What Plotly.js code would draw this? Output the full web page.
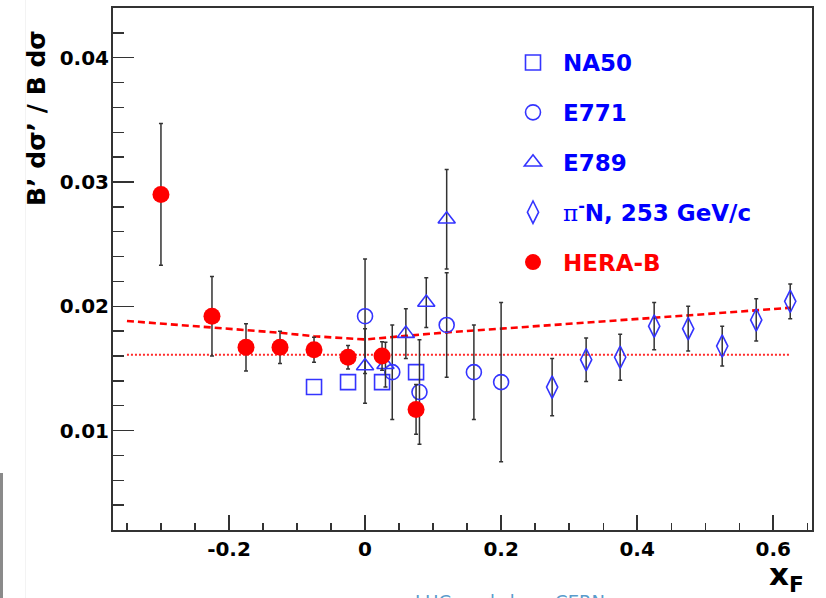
<!DOCTYPE html>
<html>
<head>
<meta charset="utf-8">
<script src="https://cdn.plot.ly/plotly-3.0.1.min.js"></script>
<style>
  html, body { margin: 0; padding: 0; background: #ffffff; }
  #chart { width: 826px; height: 598px; }
</style>
</head>
<body>
<div id="chart"></div>
<script>
// ---- measurements: B' dσ'/B dσ versus x_F ----
const na50X = [-0.075, -0.025, 0.025, 0.075];
const na50Y = [0.0135, 0.0139, 0.0139, 0.0147];

const e771X = [0, 0.04, 0.08, 0.12, 0.16, 0.2];
const e771Y = [0.0192, 0.0147, 0.0131, 0.0185, 0.0147, 0.0139];
const e771Err = [0.0046, 0.0038, 0.0042, 0.0042, 0.0038, 0.0064];

const e789X = [0, 0.03, 0.06, 0.09, 0.12];
const e789Y = [0.0152, 0.0153, 0.0178, 0.0203, 0.0270];
const e789Err = [0.0030, 0.0018, 0.0020, 0.0020, 0.0040];

const piNX = [0.275, 0.325, 0.375, 0.425, 0.475, 0.525, 0.575, 0.625];
const piNY = [0.0135, 0.0157, 0.0159, 0.0184, 0.0182, 0.0168, 0.0189, 0.0204];
const piNErr = [0.0023, 0.00175, 0.00185, 0.0019, 0.0018, 0.0016, 0.0017, 0.0014];

const herabX = [-0.3, -0.225, -0.175, -0.125, -0.075, -0.025, 0.025, 0.075];
const herabY = [0.0290, 0.0192, 0.0167, 0.0167, 0.0165, 0.0159, 0.0160, 0.0117];
const herabErr = [0.0057, 0.0032, 0.0019, 0.0013, 0.0010, 0.00095, 0.00115, 0.0020];

// model curves
const modelX = [-0.35, -0.3, -0.225, -0.175, -0.125, -0.075, -0.025, 0, 0.06, 0.12, 0.2, 0.3, 0.4, 0.5, 0.625];
const modelY = [0.01882, 0.01862, 0.01832, 0.01808, 0.01787, 0.01759, 0.01741, 0.01733, 0.01762, 0.01790, 0.01820, 0.01858, 0.01897, 0.01937, 0.01988];
const flatX = [-0.35, 0.625];
const flatY = [0.0161, 0.0161];

// axis tick labels
const xTickVals = [-0.2, 0, 0.2, 0.4, 0.6];
const xTickText = ['-0.2', '0', '0.2', '0.4', '0.6'];
const yTickVals = [0.01, 0.02, 0.03, 0.04];
const yTickText = ['0.01', '0.02', '0.03', '0.04'];

// legend labels
const names = {
  na50: 'NA50',
  e771: 'E771',
  e789: 'E789',
  piN: '<span style="font-family:\'DejaVu Serif\';font-weight:normal">π</span><sup>-</sup>N, 253 GeV/c',
  herab: '<span style="color:#ff0000">HERA-B</span>'
};

// ---- styling ----
const FONT = 'DejaVu Sans, Verdana, sans-serif';
const BLUE = '#3434ff';
const RED = '#ff0000';
const ERRCOL = '#333333';

// plot frame in page pixels
const W = 826, H = 598;
const M = { l: 113, r: 14, t: 8, b: 68 };
const PW = W - M.l - M.r, PH = H - M.t - M.b;
const px = (x) => (x - M.l) / PW;
const py = (y) => (H - M.b - y) / PH;

function errY(arr) {
  return { type: 'data', array: arr, visible: true, color: ERRCOL, thickness: 1.5, width: 2 };
}

const traces = [
  {
    x: modelX, y: modelY, mode: 'lines', showlegend: false, hoverinfo: 'skip',
    line: { color: RED, width: 2.6, dash: '7px,4px' }
  },
  {
    x: flatX, y: flatY, mode: 'lines', showlegend: false, hoverinfo: 'skip',
    line: { color: '#ff2a2a', width: 2, dash: '2px,2px' }
  },
  {
    x: na50X, y: na50Y, mode: 'markers', name: names.na50, legendgroup: 'a',
    marker: { symbol: 'square-open', size: 15, color: BLUE, line: { width: 1.6, color: BLUE } }
  },
  {
    x: e771X, y: e771Y, mode: 'markers', name: names.e771, legendgroup: 'b',
    error_y: errY(e771Err),
    marker: { symbol: 'circle-open', size: 15, color: BLUE, line: { width: 1.6, color: BLUE } }
  },
  {
    x: e789X, y: e789Y, mode: 'markers', name: names.e789, legendgroup: 'c',
    error_y: errY(e789Err),
    marker: { symbol: 'triangle-up-open', size: 15, color: BLUE, line: { width: 1.6, color: BLUE } }
  },
  {
    x: piNX, y: piNY, mode: 'markers', name: names.piN, legendgroup: 'd',
    error_y: errY(piNErr),
    marker: { symbol: 'diamond-tall-open', size: 16, color: BLUE, line: { width: 1.6, color: BLUE } }
  },
  {
    x: herabX, y: herabY, mode: 'markers', name: names.herab, legendgroup: 'e',
    error_y: errY(herabErr),
    marker: { symbol: 'circle', size: 17, color: RED, line: { width: 0 } }
  }
];

const axisCommon = {
  showgrid: false, zeroline: false,
  showline: true, linecolor: '#333333', linewidth: 2, mirror: true,
  ticks: 'inside', tickcolor: '#333333', tickwidth: 1.5,
  tickmode: 'array',
  tickfont: { family: FONT, size: 20, color: '#000000', weight: 'bold' }
};

const layout = {
  width: W, height: H,
  margin: M,
  paper_bgcolor: '#ffffff', plot_bgcolor: '#ffffff',
  showlegend: true,
  legend: {
    x: px(503), y: py(41), xanchor: 'left', yanchor: 'top',
    bgcolor: 'rgba(0,0,0,0)', borderwidth: 0,
    itemwidth: 50, traceorder: 'grouped', tracegroupgap: 17,
    font: { family: FONT, size: 23, color: '#0000ff', weight: 'bold' }
  },
  xaxis: Object.assign({}, axisCommon, {
    range: [-0.3705, 0.657],
    tickvals: xTickVals, ticktext: xTickText,
    ticklen: 15,
    minor: { tickmode: 'linear', tick0: 0, dtick: 0.05, ticks: 'inside', ticklen: 7.5, tickcolor: '#333333', tickwidth: 1.3 }
  }),
  yaxis: Object.assign({}, axisCommon, {
    range: [0.002, 0.044],
    tickvals: yTickVals, ticktext: yTickText,
    ticklen: 21, ticklabelstandoff: -2,
    minor: { tickmode: 'linear', tick0: 0, dtick: 0.002, ticks: 'inside', ticklen: 11, tickcolor: '#333333', tickwidth: 1.3 }
  }),
  annotations: [
    {
      xref: 'paper', yref: 'paper', x: px(36), y: py(118),
      xanchor: 'center', yanchor: 'middle', textangle: -90, showarrow: false,
      text: 'B’ dσ’ / B dσ',
      font: { family: FONT, size: 25, color: '#000000', weight: 'bold' }
    },
    {
      xref: 'paper', yref: 'paper', x: px(806), y: py(599),
      xanchor: 'right', yanchor: 'bottom', showarrow: false,
      text: 'x<sub>F</sub>',
      font: { family: FONT, size: 31, color: '#000000', weight: 'bold' }
    },
    {
      xref: 'paper', yref: 'paper', x: px(510), y: py(589),
      xanchor: 'center', yanchor: 'top', showarrow: false,
      text: 'LHC workshop, CERN',
      font: { family: FONT, size: 18, color: '#5a9ccc' }
    }
  ],
  shapes: [
    {
      type: 'rect', xref: 'paper', yref: 'paper', layer: 'below',
      x0: px(0), x1: px(3), y0: py(598), y1: py(473),
      fillcolor: '#8a8a8a', line: { width: 0 }
    },
    {
      type: 'line', xref: 'paper', yref: 'paper', layer: 'below',
      x0: px(25.5), x1: px(25.5), y0: py(598), y1: py(0),
      line: { color: '#f3f3f3', width: 1 }
    }
  ]
};

Plotly.newPlot('chart', traces, layout, { staticPlot: true, displayModeBar: false });
</script>
</body>
</html>
